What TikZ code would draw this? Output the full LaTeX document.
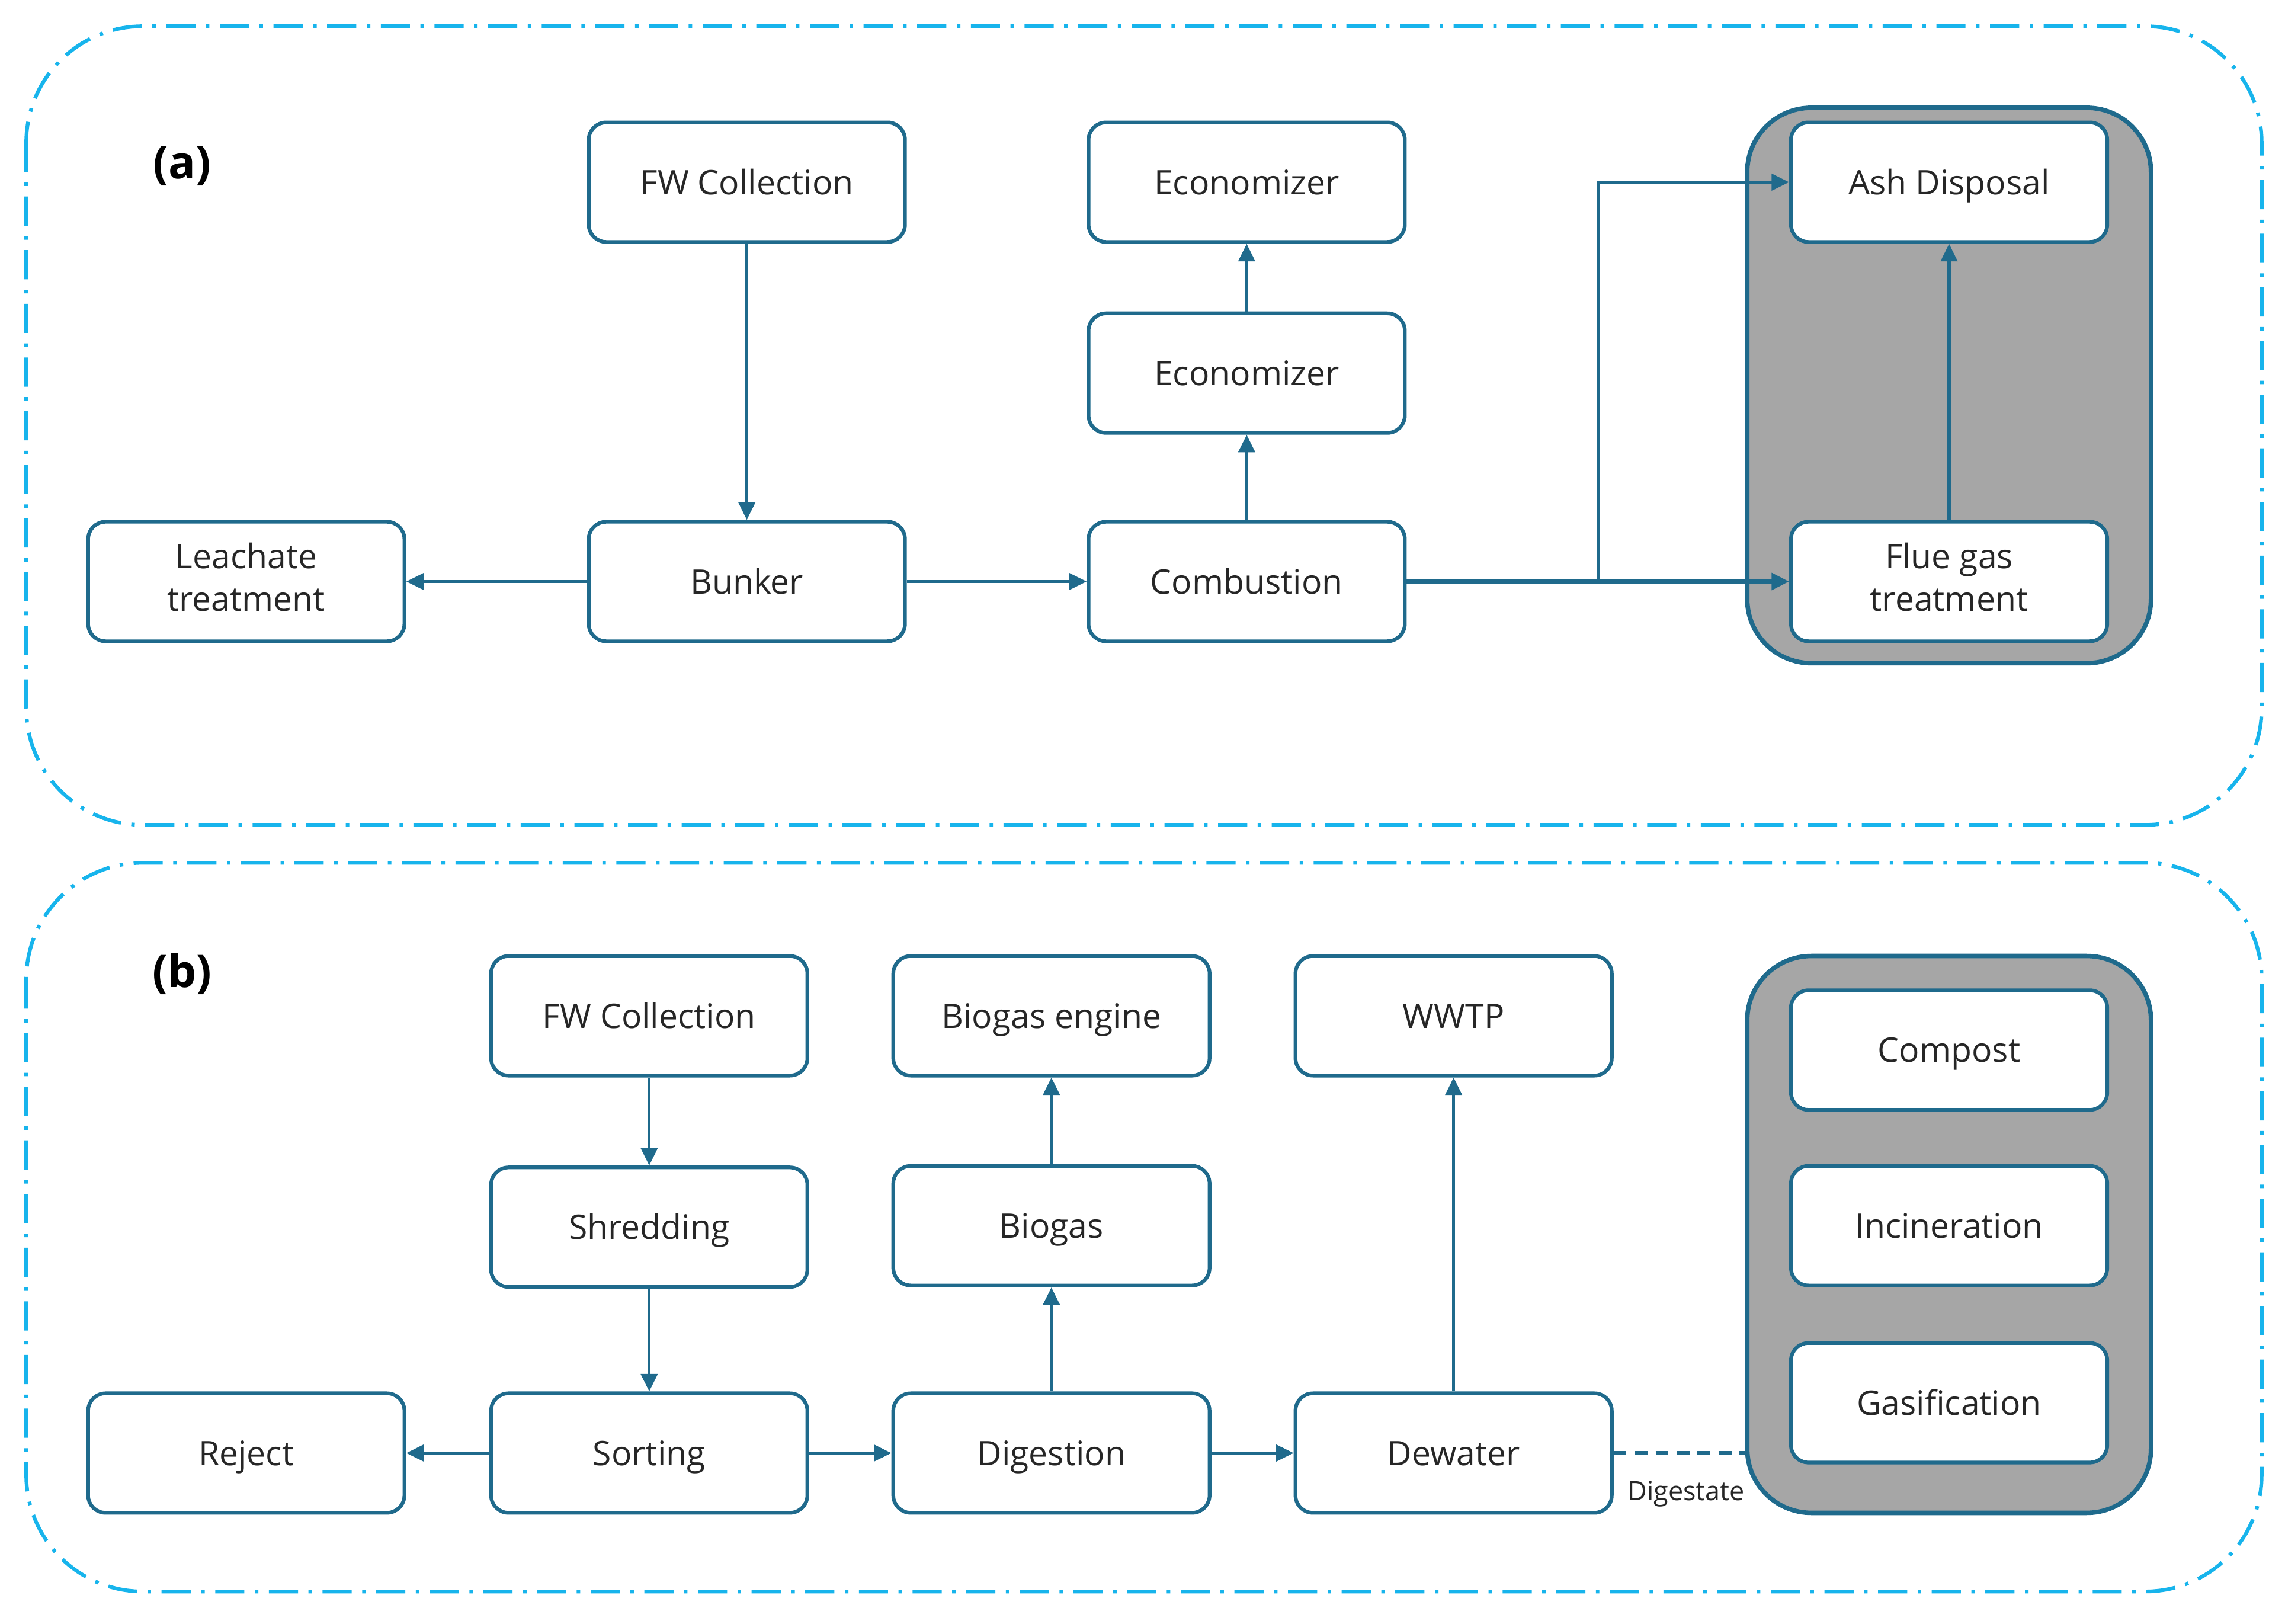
\documentclass[tikz,border=0pt]{standalone}
\usepackage{fontspec}
\setmainfont{Open Sans}
\usetikzlibrary{arrows.meta,positioning}
\definecolor{boxline}{HTML}{1F6A8C}
\definecolor{frameblue}{HTML}{17B4EC}
\definecolor{txt}{HTML}{262626}
\definecolor{panelgrey}{HTML}{A6A6A6}
\newcommand\capstrut{\rule[-0.27em]{0pt}{1.26em}}
\tikzset{
    stepbox/.style = {draw=boxline, fill=white, line width=1.8pt, rectangle, rounded corners=0.3cm, minimum width=5.425cm, minimum height=2.05cm, align=center, text=txt, font=\fontsize{16.5}{21}\selectfont, execute at begin node=\capstrut, execute at end node=\capstrut},
    groupbox/.style = {draw=boxline, fill=panelgrey, line width=2.2pt, rectangle, rounded corners=1.1cm, minimum width=6.925cm},
    frame/.style = {draw=frameblue, line width=1.8pt, rounded corners=2cm, dash pattern=on 0.5cm off 0.18cm on 0.06cm off 0.18cm},
    flow/.style = {draw=boxline, line width=1.5pt, -{Triangle[length=0.3cm, width=0.28cm]}},
    panel-label/.style = {font=\fontsize{22}{26}\selectfont\bfseries, text=black},
}

\begin{document}
\begin{tikzpicture}[x=0.025cm, y=-0.025cm]
\useasboundingbox (0,0) rectangle (1568,1114);

% outer frames
\draw[frame] (18,18) rectangle (1552,566);
\draw[frame] (18,592) rectangle (1552,1092);

% (a) incineration
\node[panel-label] (la) at (125,114) {(a)};
\node[groupbox, minimum height=9.525cm] (grpa) at (1337.5,264.5) {};
\node[stepbox] (fwa) at (512.5,125) {FW Collection};
\node[stepbox] (eco1) at (855.5,125) {Economizer};
\node[stepbox] (eco2) at (855.5,256) {Economizer};
\node[stepbox] (leach) at (169,399) {Leachate\\treatment};
\node[stepbox] (bunker) at (512.5,399) {Bunker};
\node[stepbox] (comb) at (855.5,399) {Combustion};
\node[stepbox] (ash) at (1337.5,125) {Ash Disposal};
\node[stepbox] (flue) at (1337.5,399) {Flue gas\\treatment};
\coordinate (split) at (1097,399);

\draw[flow] (fwa) -- (bunker);
\draw[flow] (bunker) -- (leach);
\draw[flow] (bunker) -- (comb);
\draw[flow] (comb) -- (eco2);
\draw[flow] (eco2) -- (eco1);
\draw[flow, line width=2.2pt] (comb) -- (flue);
\draw[flow] (split) |- (ash);
\draw[flow] (flue) -- (ash);

% (b) digestion
\node[panel-label] (lb) at (125,668) {(b)};
\node[groupbox, minimum height=9.55cm] (grpb) at (1337.5,847) {};
\node[stepbox] (fwb) at (445.5,697) {FW Collection};
\node[stepbox] (shred) at (445.5,842) {Shredding};
\node[stepbox] (sort) at (445.5,997) {Sorting};
\node[stepbox] (reject) at (169,997) {Reject};
\node[stepbox] (engine) at (721.5,697) {Biogas engine};
\node[stepbox] (biogas) at (721.5,841) {Biogas};
\node[stepbox] (digest) at (721.5,997) {Digestion};
\node[stepbox] (wwtp) at (997.5,697) {WWTP};
\node[stepbox] (dewater) at (997.5,997) {Dewater};
\node[stepbox] (compost) at (1337.5,720.5) {Compost};
\node[stepbox] (incin) at (1337.5,841) {Incineration};
\node[stepbox] (gasif) at (1337.5,962.5) {Gasification};

\draw[flow] (fwb) -- (shred);
\draw[flow] (shred) -- (sort);
\draw[flow] (sort) -- (reject);
\draw[flow] (sort) -- (digest);
\draw[flow] (digest) -- (biogas);
\draw[flow] (biogas) -- (engine);
\draw[flow] (digest) -- (dewater);
\draw[flow] (dewater) -- (wwtp);
\draw[boxline, line width=1.8pt, dash pattern=on 0.22cm off 0.14cm] (dewater.east) -- (dewater.east -| grpb.west);
\node[text=txt, font=\fontsize{13}{15}\selectfont] (dig) at (1157,1025) {Digestate};
\end{tikzpicture}
\end{document}
